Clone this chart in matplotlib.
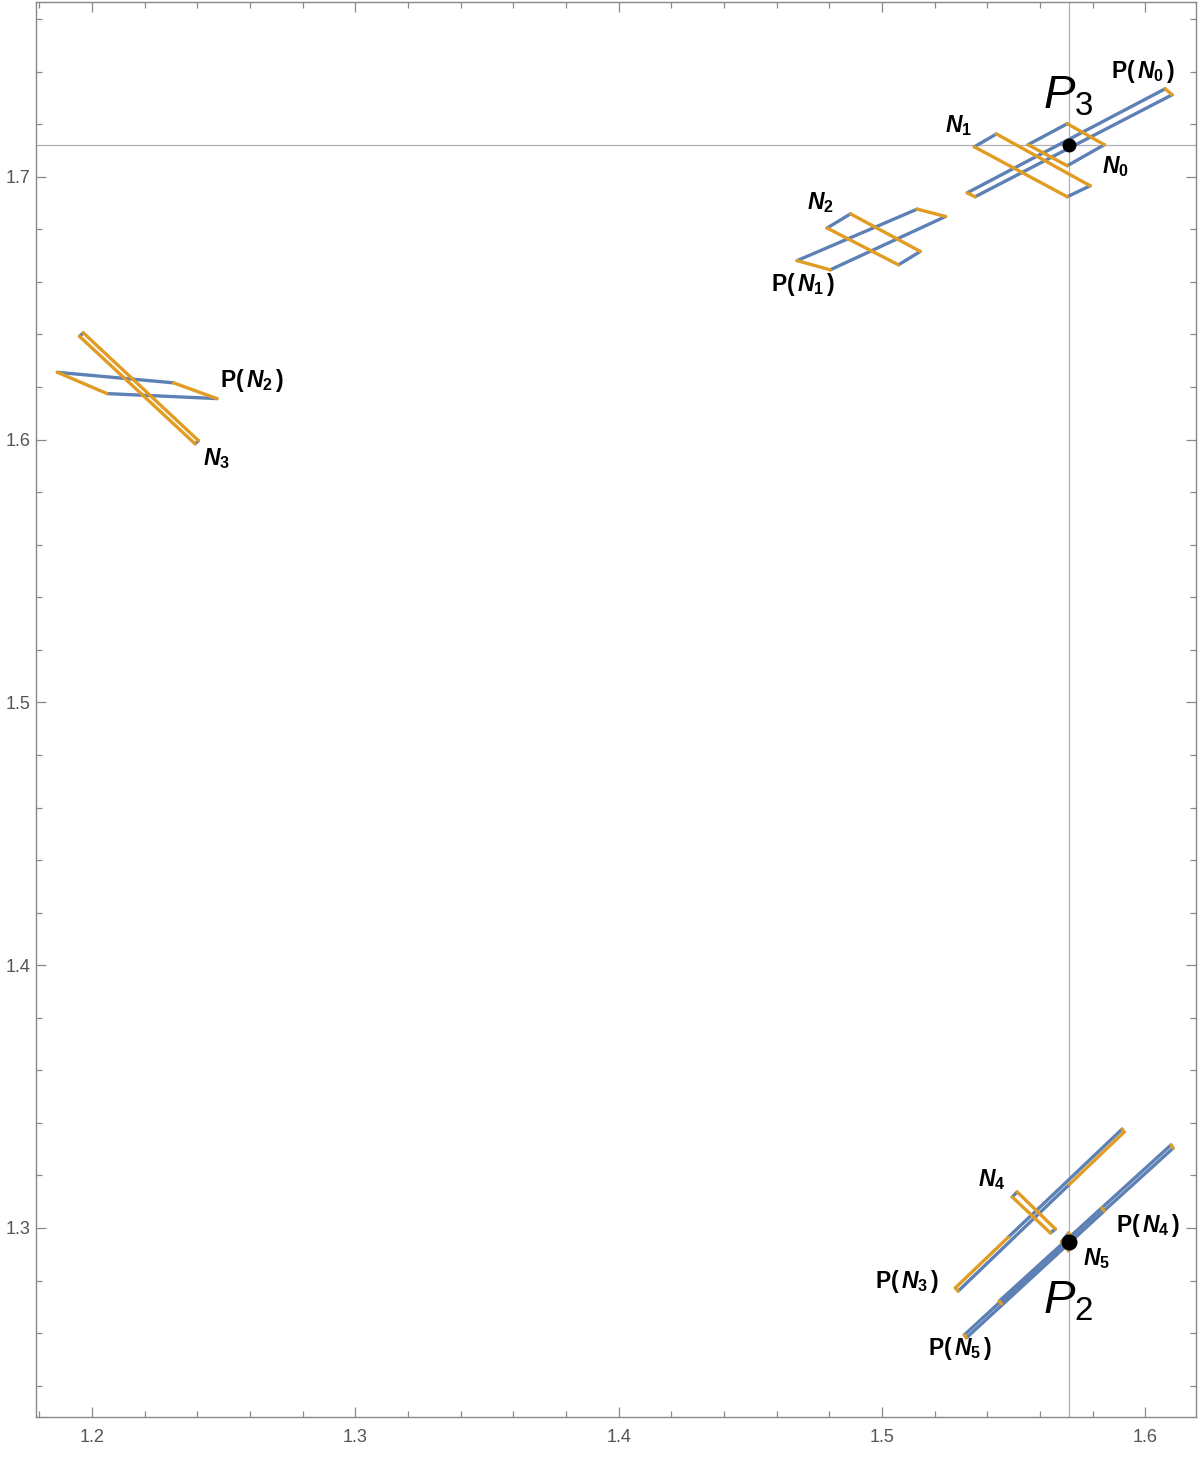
import numpy as np
import matplotlib.pyplot as plt
from matplotlib.ticker import MultipleLocator

plt.rcParams['mathtext.fontset'] = 'custom'
plt.rcParams['mathtext.rm'] = 'Liberation Sans'
plt.rcParams['mathtext.it'] = 'Liberation Sans:italic'
plt.rcParams['mathtext.bf'] = 'Liberation Sans:bold'
plt.rcParams['mathtext.bfit'] = 'Liberation Sans:bold:italic'
plt.rcParams['font.family'] = ['Liberation Sans', 'DejaVu Sans']

BLUE = '#5E81B5'
ORANGE = '#E19C24'

# corners of each quadrilateral, edges go corner i -> corner i+1 (closed)
n0_x = [1.5554, 1.5703, 1.5844, 1.5703]
n0_y = [1.7122, 1.7202, 1.7122, 1.7042]
pn0_x = [1.5323, 1.6075, 1.6101, 1.5353]
pn0_y = [1.6939, 1.7335, 1.7312, 1.6924]
n1_x = [1.5350, 1.5434, 1.5790, 1.5703]
n1_y = [1.7114, 1.7163, 1.6966, 1.6924]
n2_x = [1.4791, 1.4880, 1.5145, 1.5062]
n2_y = [1.6805, 1.6859, 1.6716, 1.6665]
pn1_x = [1.4677, 1.5133, 1.5241, 1.4803]
pn1_y = [1.6681, 1.6877, 1.6849, 1.6646]
n3_x = [1.1952, 1.1967, 1.2404, 1.2391]
n3_y = [1.6393, 1.6406, 1.5996, 1.5984]
pn2_x = [1.1868, 1.2309, 1.2474, 1.2057]
pn2_y = [1.6256, 1.6216, 1.6156, 1.6175]
n4_x = [1.5494, 1.5513, 1.5658, 1.5639]
n4_y = [1.3118, 1.3137, 1.2996, 1.2981]
n5_x = [1.5681, 1.5708, 1.5735, 1.5708]
n5_y = [1.2947, 1.2981, 1.2947, 1.2913]
pn4_x = [1.5445, 1.6097, 1.6105, 1.5453]
pn4_y = [1.2722, 1.3316, 1.3304, 1.2711]
pn5_x = [1.5312, 1.5835, 1.5843, 1.5320]
pn5_y = [1.2593, 1.3076, 1.3065, 1.2582]
edge_colors = [BLUE, ORANGE, BLUE, ORANGE]

# P(N3) is twisted: its two long sides change colour along the way
pn3_a_x = [1.5278, 1.5479, 1.5911]
pn3_a_y = [1.2772, 1.2965, 1.3376]
pn3_a_c = [ORANGE, BLUE]
pn3_b_x = [1.5289, 1.5711, 1.5919]
pn3_b_y = [1.2760, 1.3166, 1.3365]
pn3_b_c = [BLUE, ORANGE]

fixed_x = [1.5708, 1.5708]
fixed_y = [1.7122, 1.2947]
fixed_size = [9, 10.5]

labels = [r'$\mathbf{P(}\,\mathbfit{N}_\mathbf{0}\,\mathbf{)}$', r'$\mathbfit{N}_\mathbf{0}$',
          r'$\mathbfit{N}_\mathbf{1}$', r'$\mathbfit{N}_\mathbf{2}$',
          r'$\mathbf{P(}\,\mathbfit{N}_\mathbf{1}\,\mathbf{)}$',
          r'$\mathbf{P(}\,\mathbfit{N}_\mathbf{2}\,\mathbf{)}$', r'$\mathbfit{N}_\mathbf{3}$',
          r'$\mathbfit{N}_\mathbf{4}$', r'$\mathbf{P(}\,\mathbfit{N}_\mathbf{4}\,\mathbf{)}$',
          r'$\mathbfit{N}_\mathbf{5}$', r'$\mathbf{P(}\,\mathbfit{N}_\mathbf{3}\,\mathbf{)}$',
          r'$\mathbf{P(}\,\mathbfit{N}_\mathbf{5}\,\mathbf{)}$']
label_x = [1.5991, 1.5888, 1.5289, 1.4766, 1.4698, 1.2608, 1.2474, 1.5415, 1.6010, 1.5813, 1.5096, 1.5296]
label_y = [1.7399, 1.7038, 1.7194, 1.6901, 1.6589, 1.6224, 1.5928, 1.3186, 1.3011, 1.2882, 1.2795, 1.2540]
big_labels = [r'$P_3$', r'$P_2$']
big_x = [1.5707, 1.5707]
big_y = [1.7304, 1.2719]

fig = plt.figure(figsize=(12, 14.57), dpi=100)
ax = fig.add_axes([0.03, 0.0275, 0.9667, 0.9711])

ax.axvline(1.5708, color='#b0b0b0', lw=0.9, zorder=1)
ax.axhline(1.7122, color='#b0b0b0', lw=0.9, zorder=1)


def draw_quad(xs, ys):
    for i in range(4):
        j = (i + 1) % 4
        ax.plot([xs[i], xs[j]], [ys[i], ys[j]], color=edge_colors[i], lw=2.4,
                solid_capstyle='round', zorder=3 if edge_colors[i] == ORANGE else 2)


for qx, qy in [(n0_x, n0_y), (pn0_x, pn0_y), (n1_x, n1_y), (n2_x, n2_y),
               (pn1_x, pn1_y), (n3_x, n3_y), (pn2_x, pn2_y), (n4_x, n4_y),
               (n5_x, n5_y), (pn4_x, pn4_y), (pn5_x, pn5_y)]:
    draw_quad(qx, qy)

for px, py, pc in [(pn3_a_x, pn3_a_y, pn3_a_c), (pn3_b_x, pn3_b_y, pn3_b_c)]:
    for i in range(len(pc)):
        ax.plot(px[i:i + 2], py[i:i + 2], color=pc[i], lw=2.4, solid_capstyle='round',
                zorder=3 if pc[i] == ORANGE else 2)
for k in [0, -1]:
    ax.plot([pn3_a_x[k], pn3_b_x[k]], [pn3_a_y[k], pn3_b_y[k]], color=ORANGE, lw=2.4,
            solid_capstyle='round', zorder=3)

for fx, fy, fs in zip(fixed_x, fixed_y, fixed_size):
    ax.plot(fx, fy, 'o', color='black', markersize=fs, zorder=5)

for t, x, y in zip(labels, label_x, label_y):
    ax.text(x, y, t, fontsize=16.5, ha='center', va='center', zorder=6)
for t, x, y in zip(big_labels, big_x, big_y):
    ax.text(x, y, t, fontsize=34, ha='center', va='center', zorder=6)

ax.set_xlim(1.1787, 1.6192)
ax.set_ylim(1.2281, 1.7665)
ax.set_xticks([1.2, 1.3, 1.4, 1.5, 1.6])
ax.set_yticks([1.3, 1.4, 1.5, 1.6, 1.7])
ax.xaxis.set_minor_locator(MultipleLocator(0.02))
ax.yaxis.set_minor_locator(MultipleLocator(0.02))
ax.tick_params(which='both', direction='in', top=True, right=True, color='#888888',
               labelcolor='#555555', labelsize=13, width=0.9)
ax.tick_params(which='major', length=7)
ax.tick_params(which='minor', length=4)
ax.tick_params(axis='x', pad=9)
ax.tick_params(axis='y', pad=4)
for s in ax.spines.values():
    s.set_color('#888888')
    s.set_linewidth(1.0)

fig.savefig('out.png', dpi=100)
